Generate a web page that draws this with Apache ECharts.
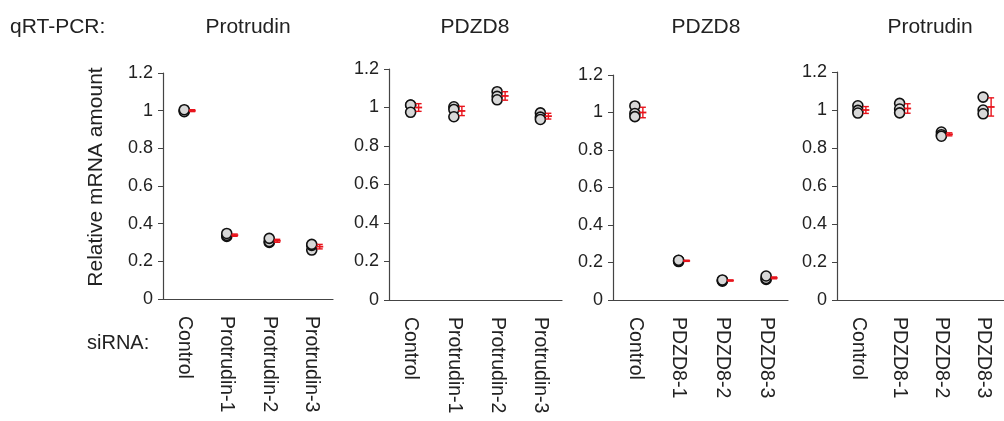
<!DOCTYPE html>
<html><head><meta charset="utf-8">
<script src="https://cdn.jsdelivr.net/npm/echarts@6/dist/echarts.min.js"></script>
<style>html,body{margin:0;padding:0;background:#fff}#c{width:1004px;height:421px}</style>
</head><body><div id="c"></div>
<script>
// ---- data ----
const titles = ['Protrudin', 'PDZD8', 'PDZD8', 'Protrudin'];
const yName = 'Relative mRNA amount';
const cats1 = ['Control', 'Protrudin-1', 'Protrudin-2', 'Protrudin-3'];
const cats2 = ['Control', 'Protrudin-1', 'Protrudin-2', 'Protrudin-3'];
const cats3 = ['Control', 'PDZD8-1', 'PDZD8-2', 'PDZD8-3'];
const cats4 = ['Control', 'PDZD8-1', 'PDZD8-2', 'PDZD8-3'];
// replicate points per category
const pts1 = [[1.0, 0.995, 1.005], [0.332, 0.338, 0.348], [0.300, 0.305, 0.322], [0.260, 0.285, 0.290]];
const pts2 = [[1.013, 1.013, 0.975], [1.004, 0.990, 0.952], [1.082, 1.058, 1.040], [0.972, 0.950, 0.938]];
const pts3 = [[1.035, 0.995, 0.978], [0.205, 0.210, 0.212], [0.100, 0.104, 0.107], [0.110, 0.115, 0.128]];
const pts4 = [[1.022, 0.998, 0.984], [1.035, 1.005, 0.985], [0.884, 0.870, 0.862], [1.068, 1.000, 0.980]];
// means and error half-widths
const mean1 = [1.0, 0.339, 0.309, 0.278];
const err1 = [0.005, 0.006, 0.008, 0.012];
const mean2 = [1.0, 0.982, 1.060, 0.955];
const err2 = [0.020, 0.024, 0.022, 0.015];
const mean3 = [1.0, 0.209, 0.104, 0.118];
const err3 = [0.028, 0.003, 0.003, 0.005];
const mean4 = [1.0, 1.008, 0.872, 1.016];
const err4 = [0.018, 0.025, 0.008, 0.048];
const yTicks = { min: 0, max: 1.2, interval: 0.2 };

const panels = [
  { cats: cats1, pts: pts1, mean: mean1, err: err1 },
  { cats: cats2, pts: pts2, mean: mean2, err: err2 },
  { cats: cats3, pts: pts3, mean: mean3, err: err3 },
  { cats: cats4, pts: pts4, mean: mean4, err: err4 }
];
// ---- layout ----
const FONT = '"Liberation Sans", Arial, Helvetica, sans-serif';
const gridPos = [
  { left: 163, width: 170, top: 73, height: 226 },
  { left: 389, width: 173, top: 69, height: 231 },
  { left: 613, width: 175, top: 75, height: 225 },
  { left: 837, width: 173, top: 72, height: 228 }
];
const titleX = [248, 475, 706, 930];

const grid = [], xAxis = [], yAxis = [], series = [];
panels.forEach((p, i) => {
  grid.push(Object.assign({ containLabel: false }, gridPos[i]));
  xAxis.push({
    type: 'category', gridIndex: i, data: p.cats, boundaryGap: true,
    axisLine: { lineStyle: { color: '#444', width: 1.2 } },
    axisTick: { show: false },
    axisLabel: { rotate: -90, fontSize: 19.5, color: '#222', fontFamily: FONT, margin: 17, interval: 0 }
  });
  yAxis.push({
    type: 'value', gridIndex: i, min: yTicks.min, max: yTicks.max, interval: yTicks.interval,
    splitLine: { show: false },
    axisLine: { show: true, lineStyle: { color: '#444', width: 1.2 } },
    axisTick: { show: true, length: 5, lineStyle: { color: '#444' } },
    axisLabel: { fontSize: 18, color: '#222', fontFamily: FONT, margin: 10 }
  });
  const sdata = [];
  p.pts.forEach((arr, ci) => arr.forEach(v => sdata.push([ci, v])));
  series.push({
    type: 'scatter', xAxisIndex: i, yAxisIndex: i, data: sdata,
    symbol: 'circle', symbolSize: 10,
    itemStyle: { color: '#d8d8d8', borderColor: '#111', borderWidth: 1.6, opacity: 1 },
    z: 3
  });
  series.push({
    type: 'custom', xAxisIndex: i, yAxisIndex: i,
    data: p.mean.map((m, ci) => [ci, m, m - p.err[ci], m + p.err[ci]]),
    renderItem: function (params, api) {
      const x = api.value(0);
      const pM = api.coord([x, api.value(1)]);
      const pL = api.coord([x, api.value(2)]);
      const pH = api.coord([x, api.value(3)]);
      const bx = pM[0] + 8;
      const st = { stroke: '#e8141c', lineWidth: 1.4 };
      return {
        type: 'group', children: [
          { type: 'line', shape: { x1: bx, y1: pL[1], x2: bx, y2: pH[1] }, style: st },
          { type: 'line', shape: { x1: bx - 3, y1: pL[1], x2: bx + 3, y2: pL[1] }, style: st },
          { type: 'line', shape: { x1: bx - 3, y1: pH[1], x2: bx + 3, y2: pH[1] }, style: st },
          { type: 'line', shape: { x1: bx - 3.5, y1: pM[1], x2: bx + 3.5, y2: pM[1] }, style: { stroke: '#e8141c', lineWidth: 1.8 } }
        ]
      };
    },
    z: 4
  });
});

const graphic = [
  { type: 'text', x: 10, y: 27, style: { text: 'qRT-PCR:', fill: '#222', font: '21px ' + FONT, textVerticalAlign: 'middle' } },
  { type: 'text', x: 87, y: 343, style: { text: 'siRNA:', fill: '#222', font: '20px ' + FONT, textVerticalAlign: 'middle' } },
  { type: 'text', x: 96, y: 177, rotation: Math.PI / 2, style: { text: yName, fill: '#222', font: '21px ' + FONT, textAlign: 'center', textVerticalAlign: 'middle' } }
];
titles.forEach((t, i) => {
  graphic.push({ type: 'text', x: titleX[i], y: 27, style: { text: t, fill: '#222', font: '21px ' + FONT, textAlign: 'center', textVerticalAlign: 'middle' } });
});

const chart = echarts.init(document.getElementById('c'), null, { renderer: 'canvas' });
chart.setOption({ animation: false, backgroundColor: '#fff', grid, xAxis, yAxis, series, graphic });
</script></body></html>
